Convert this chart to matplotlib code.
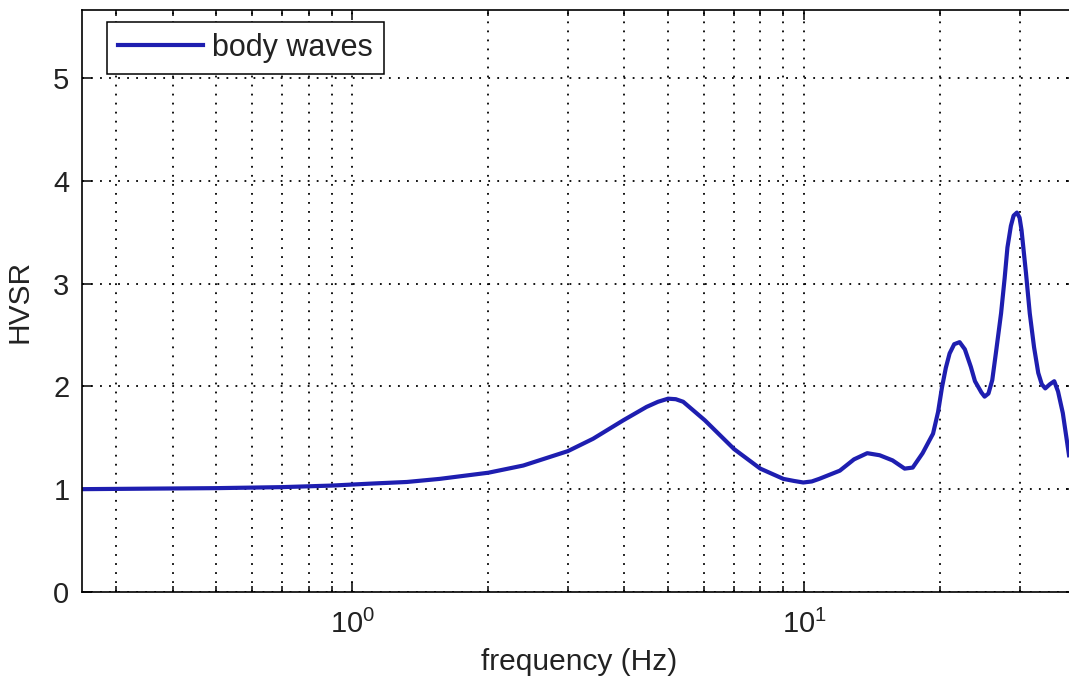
"""HVSR curve (body waves) on a log frequency axis, MATLAB-like styling."""
import matplotlib

matplotlib.use("Agg")
import matplotlib.pyplot as plt
from matplotlib.ticker import LogLocator, NullFormatter

plt.rcParams["font.family"] = ["Liberation Sans", "DejaVu Sans"]
plt.rcParams["mathtext.fontset"] = "custom"
plt.rcParams["mathtext.rm"] = "Liberation Sans"
plt.rcParams["mathtext.default"] = "regular"

# values
freq_hz = [0.25, 0.35, 0.5, 0.7, 0.9, 1.11, 1.32, 1.56, 2.0, 2.39, 3.0, 3.41,
           3.98, 4.48, 4.75, 5.0, 5.2, 5.4, 6.03, 7.0, 8.0, 9.0, 9.5, 9.96,
           10.4, 10.8, 12.0, 12.9, 13.8, 14.7, 15.7, 16.7, 17.4, 18.3, 19.3,
           19.8, 20.2, 20.6, 21.0, 21.5, 22.1, 22.7, 23.4, 23.9, 24.7, 25.1,
           25.6, 26.1, 26.6, 27.3, 27.8, 28.2, 28.7, 29.1, 29.6, 30.0, 30.3,
           31.0, 31.6, 32.3, 33.0, 33.6, 34.2, 35.0, 35.8, 36.5, 37.4, 38.6]
hvsr = [1.0, 1.005, 1.01, 1.02, 1.035, 1.055, 1.07, 1.10, 1.16, 1.23, 1.37, 1.49,
        1.67, 1.80, 1.85, 1.88, 1.875, 1.85, 1.67, 1.39, 1.20, 1.10, 1.08, 1.065,
        1.075, 1.10, 1.18, 1.29, 1.35, 1.33, 1.28, 1.20, 1.21, 1.35, 1.54,
        1.75, 1.99, 2.18, 2.32, 2.41, 2.43, 2.36, 2.19, 2.05, 1.94, 1.90,
        1.93, 2.06, 2.33, 2.71, 3.05, 3.35, 3.56, 3.66, 3.69, 3.64, 3.52,
        3.10, 2.71, 2.38, 2.13, 2.02, 1.98, 2.02, 2.05, 1.95, 1.74, 1.33]
y_ticks = [0, 1, 2, 3, 4, 5]

fig = plt.figure(figsize=(10.69, 6.91), dpi=100)
ax = fig.add_axes([82 / 1069, 99 / 691, 994 / 1069, 582 / 691])

ax.plot(freq_hz, hvsr, color="#1e1eb0", lw=3.0, label="body waves",
        solid_joinstyle="round")

ax.set_xscale("log")
ax.set_xlim(0.252, 40)
ax.set_ylim(0, 5.66)
ax.set_yticks(y_ticks)
ax.xaxis.set_major_locator(LogLocator(base=10, numticks=10))
ax.xaxis.set_minor_locator(LogLocator(base=10, subs=range(2, 10), numticks=20))
ax.xaxis.set_minor_formatter(NullFormatter())

grid_kw = dict(color="black", linewidth=1.3, linestyle=(0, (1, 4)))
ax.grid(True, which="major", axis="both", **grid_kw)
ax.grid(True, which="minor", axis="x", **grid_kw)

ax.tick_params(axis="y", which="major", direction="in", length=7, width=1.1,
               labelsize=21, right=True, pad=9, labelcolor="#222222")
ax.tick_params(axis="x", which="major", direction="in", length=7, width=1.1,
               labelsize=21, top=True, pad=13, labelcolor="#222222")
ax.tick_params(axis="x", which="minor", direction="in", length=4.5, width=1.1,
               top=True)
for sp in ax.spines.values():
    sp.set_linewidth(1.2)

ax.set_xlabel("frequency (Hz)", fontsize=21.5, labelpad=6, color="#222222")
ax.set_ylabel("HVSR", fontsize=21.5, labelpad=14, color="#222222")

leg = ax.legend(loc="upper left", bbox_to_anchor=(0.0252, 0.979), borderaxespad=0,
                fontsize=22, handlelength=2.8, handletextpad=0.3, borderpad=0.35,
                fancybox=False, framealpha=1)
leg.get_frame().set_edgecolor("black")
leg.get_frame().set_linewidth(1.1)
for t in leg.get_texts():
    t.set_color("#222222")

fig.savefig("out.png", dpi=100)
